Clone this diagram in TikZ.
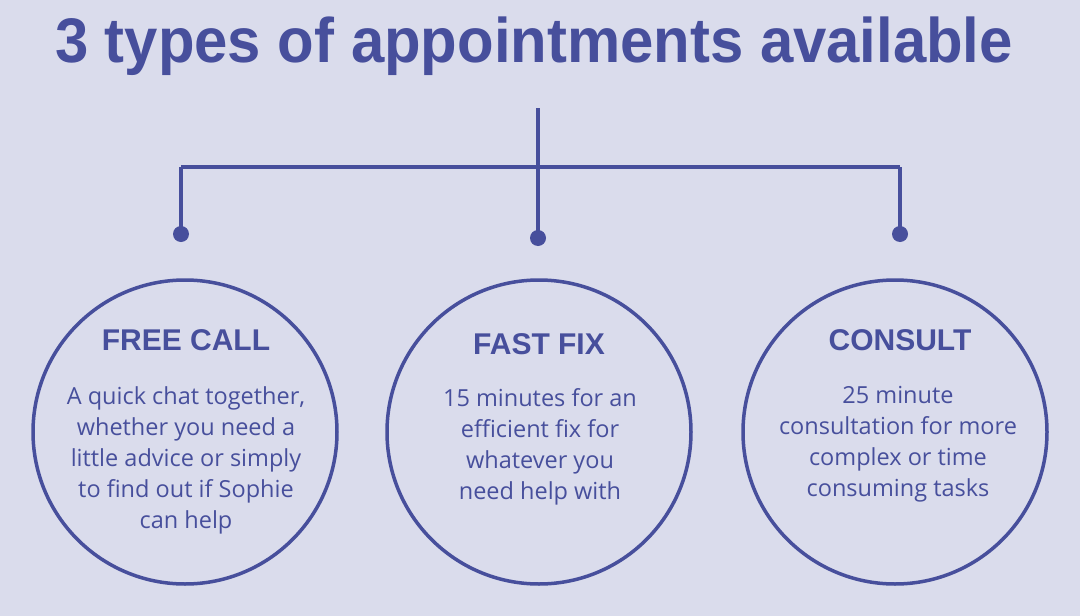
\documentclass[tikz,border=0pt]{standalone}
\usepackage{fontspec}
\setmainfont{Open Sans}
\newfontfamily\titlefont{Liberation Sans}
\definecolor{bg}{HTML}{DADCEC}
\definecolor{ink}{HTML}{474F9C}
\begin{document}
\begin{tikzpicture}[x=1pt,y=-1pt,
  line/.style={draw=ink,line width=4pt},
  dot/.style={circle,fill=ink,inner sep=0pt,minimum size=16pt},
  bubble/.style={circle,draw=ink,line width=3.5pt,minimum size=304pt,inner sep=0pt},
  head/.style={text=ink,font=\titlefont\bfseries\fontsize{30}{36}\selectfont,inner sep=0pt},
  body/.style={text=ink,font=\fontsize{23.5}{31}\selectfont,align=center,inner sep=0pt}]
\fill[bg] (0,0) rectangle (1080,616);
\useasboundingbox (0,0) rectangle (1080,616);
\node[text=ink,font=\titlefont\bfseries\fontsize{63}{70}\selectfont,xscale=0.95,inner sep=0pt] (title) at (534,46) {3 types of appointments available};
\coordinate (top) at (538,108);
\coordinate (hub) at (538,167);
\coordinate (lc) at (181,167);
\coordinate (rc) at (900,167);
\node[dot] (d1) at (181,234) {};
\node[dot] (d2) at (538,238) {};
\node[dot] (d3) at (900,234) {};
\draw[line] (lc) -- (rc);
\draw[line] (top) -- (d2.center);
\draw[line] (lc) -- (d1.center);
\draw[line] (rc) -- (d3.center);
\node[bubble] (c1) at (185,432) {};
\node[bubble] (c2) at (539,432) {};
\node[bubble] (c3) at (895,432) {};
\node[head] (h1) at (186,340) {FREE CALL};
\node[head] (h2) at (539,344) {FAST FIX};
\node[head] (h3) at (900,340) {CONSULT};
\node[body,anchor=north] (b1) at (186,386) {A quick chat together,\\whether you need a\\little advice or simply\\to find out if Sophie\\can help};
\node[body,anchor=north] (b2) at (540,388) {15 minutes for an\\efficient fix for\\whatever you\\need help with};
\node[body,anchor=north] (b3) at (898,386) {25 minute\\consultation for more\\complex or time\\consuming tasks};
\end{tikzpicture}
\end{document}
